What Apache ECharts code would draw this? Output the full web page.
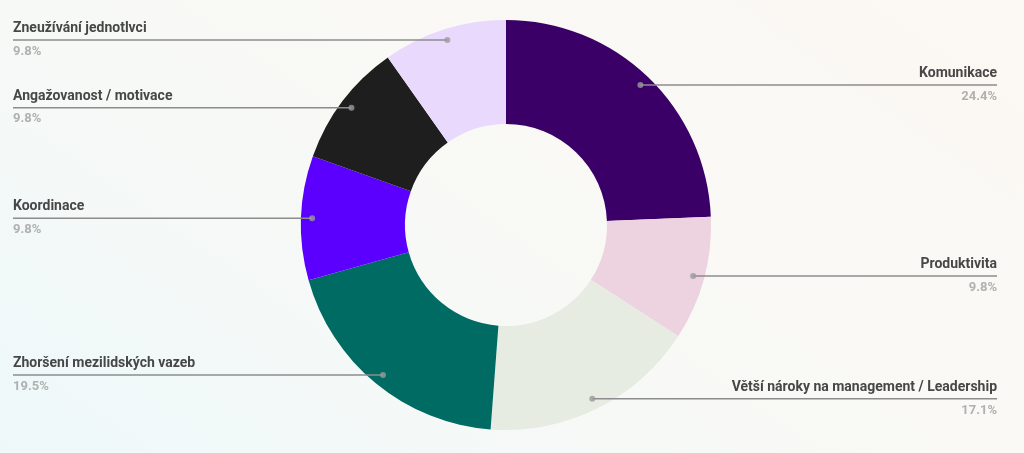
<!DOCTYPE html>
<html>
<head>
<meta charset="utf-8">
<script src="https://cdn.jsdelivr.net/npm/echarts@6/dist/echarts.min.js"></script>
<style>
html,body{margin:0;padding:0;width:1024px;height:453px;overflow:hidden;
background:linear-gradient(35deg,#eef8fa 0%,#f8f9f6 45%,#fcf8f3 100%);}
#chart{width:1024px;height:453px;}
</style>
</head>
<body>
<div id="chart"></div>
<script>
const categories = [
  'Komunikace',
  'Produktivita',
  'Větší nároky na management / Leadership',
  'Zhoršení mezilidských vazeb',
  'Koordinace',
  'Angažovanost / motivace',
  'Zneužívání jednotlvci'
];
const shares = [24.4, 9.8, 17.1, 19.5, 9.8, 9.8, 9.8];
const sliceColors = ['#3a0068', '#edd3df', '#e7ece3', '#006b63', '#5b00ff', '#1e1e1e', '#e9d9fd'];

const chart = echarts.init(document.getElementById('chart'));
const W = 1024;
const CX = 506, CY = 225, R_DOT = 194;
const total = shares.reduce((a, b) => a + b, 0);
const mids = [];
let acc = 0;
shares.forEach(v => { mids.push(acc + v / 2); acc += v; });

const pieData = categories.map((c, i) => ({ name: c, value: shares[i], itemStyle: { color: sliceColors[i] } }));
const labelData = categories.map((c, i) => ({ name: c, value: shares[i] }));

chart.setOption({
  animation: false,
  polar: { center: [CX, CY], radius: R_DOT },
  angleAxis: { type: 'value', min: 0, max: total, startAngle: 90, show: false },
  radiusAxis: { type: 'value', min: 0, max: 1, show: false },
  series: [
    {
      type: 'pie',
      z: 1,
      center: [CX, CY],
      radius: [101, 205],
      startAngle: 90,
      silent: true,
      label: { show: false },
      labelLine: { show: false },
      data: pieData
    },
    {
      type: 'pie',
      z: 4,
      left: 0, right: 14, top: 0, bottom: 0,
      center: [CX, CY],
      radius: [0, R_DOT],
      startAngle: 90,
      silent: true,
      itemStyle: { color: 'rgba(0,0,0,0)' },
      label: {
        show: true,
        alignTo: 'edge',
        edgeDistance: 13,
        fontFamily: 'Roboto',
        formatter: p => '{n|' + p.name + '}\n{v|' + p.value.toFixed(1) + '%}',
        rich: {
          n: { fontSize: 14, fontWeight: 'bold', color: '#474747', lineHeight: 23, fontFamily: 'Roboto' },
          v: { fontSize: 13, fontWeight: 'bold', color: '#b0b0b0', lineHeight: 23, fontFamily: 'Roboto' }
        }
      },
      labelLine: {
        show: true,
        length: 0,
        length2: 0,
        smooth: false,
        minTurnAngle: 0,
        maxSurfaceAngle: 180,
        lineStyle: { color: '#8c8c8c', width: 1.5 }
      },
      labelLayout: function (params) {
        const isLeft = params.labelRect.x < W / 2;
        const ang = mids[params.dataIndex] / total * Math.PI * 2;
        const px = CX + R_DOT * Math.sin(ang);
        const py = CY - R_DOT * Math.cos(ang);
        const ex = isLeft ? params.labelRect.x : params.labelRect.x + params.labelRect.width;
        return { labelLinePoints: [[px, py], [px, py], [ex, py]] };
      },
      data: labelData
    },
    {
      type: 'scatter',
      coordinateSystem: 'polar',
      silent: true,
      symbolSize: 6,
      itemStyle: { color: '#9a9a9a' },
      z: 6,
      data: mids.map(m => [1, m])
    }
  ]
});
</script>
</body>
</html>
